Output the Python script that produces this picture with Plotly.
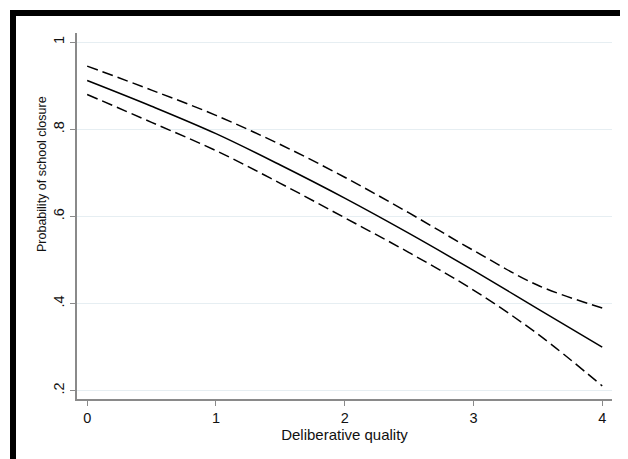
import plotly.graph_objects as go

# Data
quality = [0, 0.5, 1, 1.5, 2, 2.5, 3, 3.5, 4]
prob_mid = [0.912, 0.853, 0.790, 0.718, 0.642, 0.561, 0.476, 0.388, 0.300]
prob_upper = [0.945, 0.890, 0.832, 0.765, 0.690, 0.608, 0.522, 0.442, 0.390]
prob_lower = [0.880, 0.816, 0.751, 0.676, 0.597, 0.517, 0.431, 0.330, 0.211]

x_ticks = [0, 1, 2, 3, 4]
x_tick_labels = ["0", "1", "2", "3", "4"]
y_ticks = [0.2, 0.4, 0.6, 0.8, 1.0]
y_tick_labels = [".2", ".4", ".6", ".8", "1"]
x_title = "Deliberative quality"
y_title = "Probability of school closure"

# The page body adds an 8px margin, so the figure is placed at (8, 8)
OFF = 8
W, H = 628 - OFF, 459 - OFF
ML, MR, MT, MB = 69, 16, 25, 60

FONT = "Liberation Sans, Arial, sans-serif"
TXT = "#111111"

fig = go.Figure()
fig.add_trace(go.Scatter(x=quality, y=prob_upper, mode="lines", line_shape="spline",
                         line=dict(color="black", width=1.5, dash="11px,5px"),
                         showlegend=False, hoverinfo="skip"))
fig.add_trace(go.Scatter(x=quality, y=prob_mid, mode="lines", line_shape="spline",
                         line=dict(color="black", width=1.5),
                         showlegend=False))
fig.add_trace(go.Scatter(x=quality, y=prob_lower, mode="lines", line_shape="spline",
                         line=dict(color="black", width=1.5, dash="11px,5px"),
                         showlegend=False, hoverinfo="skip"))

pw = W - ML - MR
ph = H - MT - MB


def px_x(p):
    # page pixel -> paper coordinate
    return (p - OFF - ML) / pw


def px_y(p):
    return (H - MB - (p - OFF)) / ph


shapes = [
    # thick black frame (top and left), thin grey right edge
    dict(type="rect", xref="paper", yref="paper", x0=px_x(10), x1=px_x(640),
         y0=px_y(16), y1=px_y(10), fillcolor="black", line=dict(width=0), layer="above"),
    dict(type="rect", xref="paper", yref="paper", x0=px_x(10), x1=px_x(16),
         y0=px_y(470), y1=px_y(10), fillcolor="black", line=dict(width=0), layer="above"),
    dict(type="line", xref="paper", yref="paper", x0=px_x(626), x1=px_x(626),
         y0=px_y(470), y1=px_y(16), line=dict(color="#c8c8c8", width=1), layer="above"),
]

annotations = [
    dict(text=y_title, textangle=-90, xref="paper", yref="paper",
         x=px_x(42), y=px_y(174), xanchor="center", yanchor="middle",
         showarrow=False, font=dict(size=12.5, family=FONT, color=TXT)),
]

fig.update_layout(
    width=W, height=H,
    margin=dict(l=ML, r=MR, t=MT, b=MB, pad=0),
    paper_bgcolor="white", plot_bgcolor="white",
    font=dict(family=FONT, color=TXT, size=14),
    shapes=shapes,
    annotations=annotations,
    xaxis=dict(
        range=[-0.079, 4.076], tickvals=x_ticks, ticktext=x_tick_labels,
        showgrid=False, zeroline=False,
        showline=True, linecolor="#8a8a8a", linewidth=1.5,
        ticks="outside", ticklen=5, tickwidth=1, tickcolor="#8a8a8a",
        tickfont=dict(size=14.5, family=FONT, color=TXT),
        title=dict(text=x_title, font=dict(size=15, family=FONT, color=TXT),
                   standoff=0),
    ),
    yaxis=dict(
        range=[0.181, 1.021], tickvals=y_ticks, ticktext=y_tick_labels,
        showgrid=True, gridcolor="#e6eef2", gridwidth=1, zeroline=False,
        showline=True, linecolor="#8a8a8a", linewidth=1.5,
        ticks="outside", ticklen=5, tickwidth=1, tickcolor="#8a8a8a",
        tickangle=-90,
        tickfont=dict(size=14.5, family=FONT, color=TXT),
    ),
)

fig.write_html("out.html")
